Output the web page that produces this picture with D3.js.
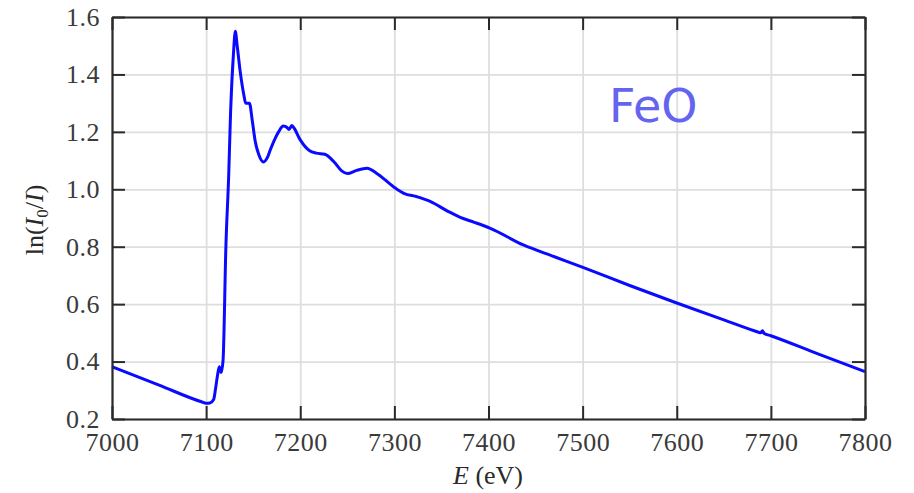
<!DOCTYPE html>
<html>
<head>
<meta charset="utf-8">
<script src="https://cdn.jsdelivr.net/npm/d3@7"></script>
<style>
  html, body { margin: 0; padding: 0; background: #fff; }
  svg text { font-family: "Liberation Serif", "DejaVu Serif", serif; }
  svg text.sample { font-family: "DejaVu Sans", sans-serif; }
</style>
</head>
<body>
<div id="container"></div>
<script>
// spectrum: photon energy (eV) and ln(I0/I)
const energy = [
  7000, 7050, 7095, 7100, 7104, 7108, 7110, 7112, 7114, 7116, 7118,
  7121, 7124, 7126, 7129, 7131, 7133, 7136, 7140, 7142, 7146, 7149, 7152,
  7156, 7161, 7165, 7168, 7173, 7177, 7182, 7186, 7188, 7191, 7193, 7200,
  7210, 7217, 7226, 7236, 7244, 7250, 7260, 7271, 7281, 7299, 7310, 7324, 7338,
  7356, 7370, 7385, 7402, 7437, 7470, 7501, 7550, 7600, 7650, 7687, 7689, 7691,
  7693, 7700, 7750, 7800
];
const absorbance = [
  0.382, 0.318, 0.260, 0.255, 0.256, 0.268, 0.305, 0.350, 0.382, 0.362, 0.405,
  0.800, 1.050, 1.270, 1.470, 1.550, 1.500, 1.415, 1.330, 1.300, 1.300, 1.240, 1.170,
  1.120, 1.095, 1.110, 1.136, 1.175, 1.200, 1.220, 1.215, 1.208, 1.222, 1.215, 1.172,
  1.134, 1.126, 1.122, 1.095, 1.064, 1.055, 1.066, 1.073, 1.056, 1.009, 0.986, 0.974, 0.958,
  0.925, 0.902, 0.885, 0.864, 0.806, 0.765, 0.727, 0.665, 0.604, 0.545, 0.502, 0.500, 0.507,
  0.498, 0.490, 0.427, 0.365
];
const xTicks = [7000, 7100, 7200, 7300, 7400, 7500, 7600, 7700, 7800];
const yTicks = [0.2, 0.4, 0.6, 0.8, 1.0, 1.2, 1.4, 1.6];
const sampleName = "FeO";

const width = 914;
const height = 493;
const marginTop = 17;
const marginRight = 49;
const marginBottom = 74;
const marginLeft = 112;
const tickLen = 13;

const data = energy.map((e, i) => ({E: e, A: absorbance[i]}));

const x = d3.scaleLinear()
    .domain([7000, 7800])
    .range([marginLeft, width - marginRight]);

const y = d3.scaleLinear()
    .domain([0.2, 1.6])
    .range([height - marginBottom, marginTop]);

const svg = d3.create("svg")
    .attr("width", width)
    .attr("height", height)
    .attr("viewBox", [0, 0, width, height]);

// grid
svg.append("g")
    .attr("transform", `translate(0,${height - marginBottom})`)
    .call(d3.axisBottom(x).tickValues(xTicks).tickSize(-(height - marginTop - marginBottom)).tickFormat(""))
    .call(g => g.select(".domain").remove())
    .call(g => g.selectAll("line").attr("stroke", "#dedede").attr("stroke-width", 1.8));

svg.append("g")
    .attr("transform", `translate(${marginLeft},0)`)
    .call(d3.axisLeft(y).tickValues(yTicks).tickSize(-(width - marginLeft - marginRight)).tickFormat(""))
    .call(g => g.select(".domain").remove())
    .call(g => g.selectAll("line").attr("stroke", "#dedede").attr("stroke-width", 1.8));

// the spectrum
const line = d3.line()
    .x(d => x(d.E))
    .y(d => y(d.A))
    .curve(d3.curveMonotoneX);

svg.append("path")
    .datum(data)
    .attr("fill", "none")
    .attr("stroke", "#0a0aff")
    .attr("stroke-width", 3)
    .attr("stroke-linejoin", "round")
    .attr("d", line);

// frame axes, ticks pointing inward
function styleAxis(g) {
  g.attr("font-family", null).attr("font-size", null);
  g.select(".domain").attr("stroke", "#2a2a2a").attr("stroke-width", 2.2);
  g.selectAll(".tick line").attr("stroke", "#2a2a2a").attr("stroke-width", 2);
  g.selectAll(".tick text")
      .attr("fill", "#3a3a3a")
      .attr("font-size", 26)
      .attr("letter-spacing", 0.5);
}

svg.append("g")
    .attr("transform", `translate(0,${height - marginBottom})`)
    .call(d3.axisBottom(x).tickValues(xTicks).tickSizeInner(-tickLen).tickSizeOuter(0).tickPadding(14).tickFormat(d3.format("d")))
    .call(styleAxis);

svg.append("g")
    .attr("transform", `translate(0,${marginTop})`)
    .call(d3.axisTop(x).tickValues(xTicks).tickSizeInner(-tickLen).tickSizeOuter(0).tickFormat(""))
    .call(styleAxis);

svg.append("g")
    .attr("transform", `translate(${marginLeft},0)`)
    .call(d3.axisLeft(y).tickValues(yTicks).tickSizeInner(-tickLen).tickSizeOuter(0).tickPadding(12).tickFormat(d3.format(".1f")))
    .call(styleAxis);

svg.append("g")
    .attr("transform", `translate(${width - marginRight},0)`)
    .call(d3.axisRight(y).tickValues(yTicks).tickSizeInner(-tickLen).tickSizeOuter(0).tickFormat(""))
    .call(styleAxis);

// axis titles
const xTitle = svg.append("text")
    .attr("x", 488)
    .attr("y", 484)
    .attr("text-anchor", "middle")
    .attr("fill", "#2a2a2a")
    .attr("font-size", 26);
xTitle.append("tspan").attr("font-style", "italic").text("E");
xTitle.append("tspan").text(" (eV)");

const yTitle = svg.append("text")
    .attr("transform", `translate(43,${(marginTop + height - marginBottom) / 2 + 2}) rotate(-90)`)
    .attr("text-anchor", "middle")
    .attr("fill", "#2a2a2a")
    .attr("font-size", 26);
yTitle.append("tspan").text("ln(");
yTitle.append("tspan").attr("font-style", "italic").text("I");
yTitle.append("tspan").attr("font-size", 17).attr("dy", 5).text("0");
yTitle.append("tspan").attr("dy", -5).text("/");
yTitle.append("tspan").attr("font-style", "italic").text("I");
yTitle.append("tspan").text(")");

// sample label
svg.append("text")
    .attr("class", "sample")
    .attr("x", 609)
    .attr("y", 122)
    .attr("fill", "#6464f0")
    .attr("font-size", 46)
    .text(sampleName);

container.append(svg.node());
</script>
</body>
</html>
